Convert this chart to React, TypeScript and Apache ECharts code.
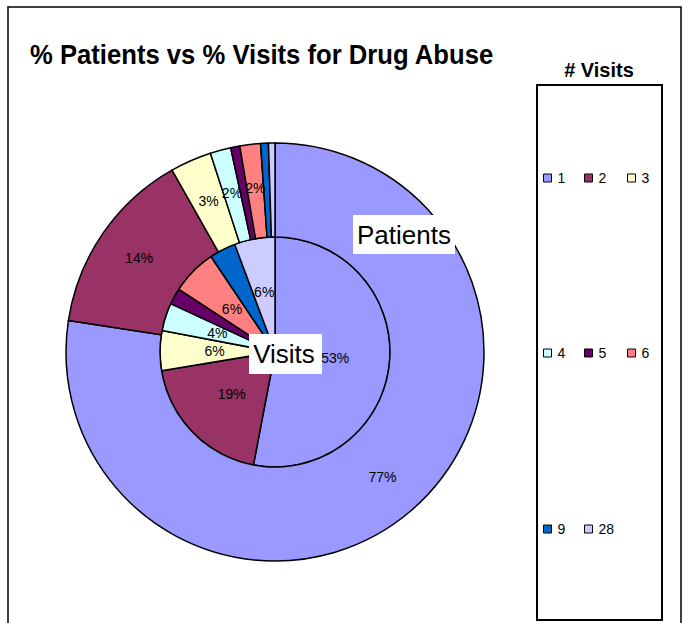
import React, { useEffect, useRef } from "react";
import * as echarts from "echarts";

const visitCounts = ["1", "2", "3", "4", "5", "6", "9", "28"];
const patientPct = [77.4, 14.4, 3.2, 1.6, 0.7, 1.6, 0.6, 0.5];
const visitPct = [53.0, 19.4, 5.6, 3.9, 2.3, 6.4, 3.7, 5.7];
const sliceColors = ["#9999FF", "#993366", "#FFFFCC", "#CCFFFF", "#660066", "#FF8080", "#0066CC", "#CCCCFF"];

const TITLE = "% Patients vs % Visits for Drug Abuse";
const LEGEND_TITLE = "# Visits";

export default function App() {
  const ref = useRef<HTMLDivElement>(null);
  useEffect(() => {
    if (!ref.current) return;
    const chart = echarts.init(ref.current, null, { renderer: "svg" });
    const font = "Liberation Sans, Arial, sans-serif";
    const mk = (vals: number[]) =>
      visitCounts.map((n, i) => ({ name: n, value: vals[i], itemStyle: { color: sliceColors[i] } }));
    const label = {
      show: true,
      position: "inside",
      color: "#000",
      fontFamily: font,
      fontSize: 14,
      formatter: (p: any) => Math.round(p.value) + "%",
    };
    const itemStyle = { borderColor: "#000", borderWidth: 1.5 };

    const colX = [543, 584, 627];
    const rowY = [171, 346, 522];
    const legends = visitCounts.map((n, i) => ({
      show: true,
      data: [n],
      left: colX[i % 3],
      top: rowY[Math.floor(i / 3)],
      orient: "horizontal",
      icon: "rect",
      itemWidth: 8,
      itemHeight: 8,
      itemGap: 0,
      padding: 0,
      selectedMode: false,
      itemStyle: { borderColor: "#000", borderWidth: 1 },
      textStyle: { fontFamily: font, fontSize: 14, color: "#000", padding: [0, 0, 0, 1] },
    }));

    chart.setOption({
      animation: false,
      backgroundColor: "#fff",
      legend: legends,
      graphic: [
        { type: "rect", shape: { x: 8, y: 7, width: 673, height: 700 }, style: { fill: "none", stroke: "#000", lineWidth: 1.5 }, z: -1 },
        { type: "rect", shape: { x: 537, y: 85, width: 125, height: 535 }, style: { fill: "none", stroke: "#000", lineWidth: 2 }, z: -1 },
        {
          type: "text",
          x: 30,
          y: 55,
          scaleX: 0.95,
          style: { text: TITLE, font: "bold 27px " + font, fill: "#000", textVerticalAlign: "middle" },
        },
        {
          type: "text",
          x: 599,
          y: 70,
          scaleX: 1.0,
          style: { text: LEGEND_TITLE, font: "bold 20px " + font, fill: "#000", textAlign: "center", textVerticalAlign: "middle" },
        },
        { type: "rect", shape: { x: 353, y: 215, width: 102, height: 39 }, style: { fill: "#fff" }, z: 10 },
        { type: "text", x: 404, y: 235, z: 11, style: { text: "Patients", font: "26px " + font, fill: "#000", textAlign: "center", textVerticalAlign: "middle" } },
        { type: "rect", shape: { x: 249, y: 334, width: 73, height: 40 }, style: { fill: "#fff" }, z: 10 },
        { type: "text", x: 284, y: 354, z: 11, style: { text: "Visits", font: "26px " + font, fill: "#000", textAlign: "center", textVerticalAlign: "middle" } },
      ],
      series: [
        {
          name: "Visits",
          type: "pie",
          center: [275, 352],
          radius: [0, 115],
          startAngle: 90,
          clockwise: true,
          data: mk(visitPct),
          label,
          labelLine: { show: false },
          itemStyle,
          emphasis: { disabled: true },
          z: 2,
        },
        {
          name: "Patients",
          type: "pie",
          center: [275, 352],
          radius: [115, 209],
          startAngle: 90,
          clockwise: true,
          data: mk(patientPct),
          label,
          labelLine: { show: false },
          itemStyle,
          emphasis: { disabled: true },
          z: 2,
        },
      ],
    });
    return () => chart.dispose();
  }, []);
  return <div ref={ref} style={{ position: "fixed", left: 0, top: 0, width: 682, height: 623 }} />;
}
